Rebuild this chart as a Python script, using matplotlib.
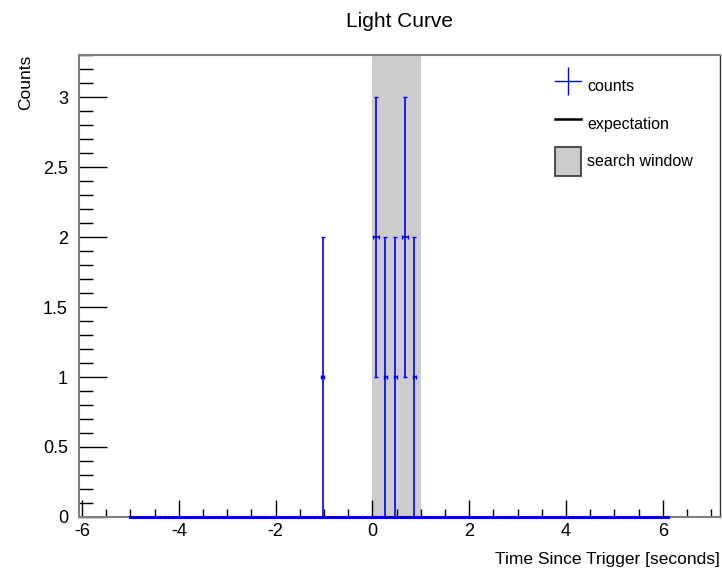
import numpy as np
import matplotlib
matplotlib.use("Agg")
from matplotlib import pyplot as plt
from matplotlib.ticker import MultipleLocator
from matplotlib.lines import Line2D
from matplotlib.patches import Patch

# Данные
times = [-1.03, 0.08, 0.27, 0.47, 0.67, 0.87]
counts = [1, 2, 1, 1, 2, 1]
count_err = [1, 1, 1, 1, 1, 1]
bin_half = [0.03, 0.06, 0.03, 0.03, 0.06, 0.03]
t_start, t_end = -5.0, 6.1
expectation = 0.0
window = (0.0, 1.0)

plt.rcParams['font.family'] = ['Liberation Sans', 'DejaVu Sans']
plt.rcParams['axes.unicode_minus'] = False

fig = plt.figure(figsize=(7.22, 5.69), dpi=100)
ax = fig.add_axes([0.1094, 0.0914, 0.9972 - 0.1094, 0.9033 - 0.0914])

# окно поиска
ax.axvspan(window[0], window[1], color='#cccccc', lw=0, zorder=1)

# нулевые бины и ожидание
ax.plot([t_start, t_end], [0, 0], color='blue', lw=2.2, zorder=5,
        clip_on=False)
ax.plot([t_start, t_end], [expectation, expectation], color='black', lw=1,
        dashes=(1.5, 1.5), zorder=6, clip_on=False)

# отсчёты
ax.errorbar(times, counts, yerr=count_err, xerr=bin_half, fmt='none',
            ecolor='blue', elinewidth=1.2, capsize=1.5, capthick=1, zorder=4)

ax.set_xlim(-6.06, 7.18)
ax.set_ylim(0, 3.3)

ax.xaxis.set_major_locator(MultipleLocator(2))
ax.xaxis.set_minor_locator(MultipleLocator(0.5))
ax.yaxis.set_major_locator(MultipleLocator(0.5))
ax.yaxis.set_minor_locator(MultipleLocator(0.1))
ax.tick_params(which='both', direction='in', top=False, right=False,
               labelsize=13)
ax.tick_params(axis='x', which='major', length=12, width=1, pad=4)
ax.tick_params(axis='x', which='minor', length=6, width=1)
ax.tick_params(axis='y', which='major', length=20, width=1, pad=8)
ax.tick_params(axis='y', which='minor', length=10, width=1)
ax.set_yticks([0, 0.5, 1, 1.5, 2, 2.5, 3])
ax.set_yticklabels(['0', '0.5', '1', '1.5', '2', '2.5', '3'])

for s in ax.spines.values():
    s.set_color('#808080')
    s.set_linewidth(1.5)
ax.spines['right'].set_color('#333333')
ax.spines['right'].set_linewidth(1)

ax.set_xlabel('Time Since Trigger [seconds]', fontsize=12.5, loc='right',
              labelpad=9)
ax.set_ylabel('Counts', fontsize=12.5, loc='top', labelpad=7)
ax.set_title('Light Curve', fontsize=15, pad=20)

handles = [
    Line2D([], [], color='blue', marker='|', markersize=20, lw=1,
           markeredgewidth=1),
    Line2D([], [], color='black', lw=1.8),
    Patch(facecolor='#cccccc', edgecolor='#333333', lw=1.2),
]
ax.legend(handles, ['counts', 'expectation', 'search window'],
          loc='upper right', bbox_to_anchor=(0.98, 0.995), frameon=False,
          fontsize=11.5, labelspacing=0.55, handlelength=1.6,
          handleheight=2.4, handletextpad=0.4)

plt.savefig('out.png', dpi=100)
